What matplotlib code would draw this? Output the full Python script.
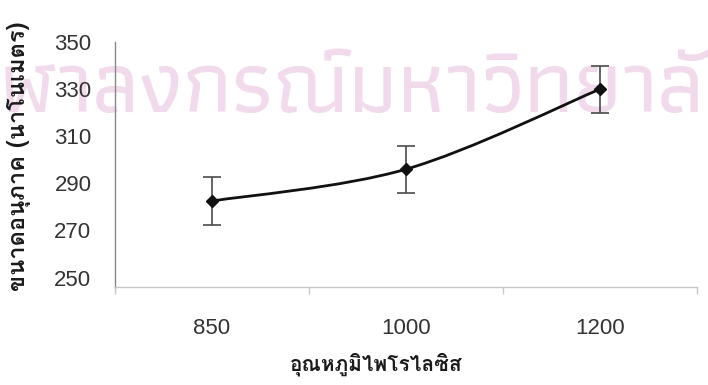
import matplotlib
matplotlib.use("Agg")
import numpy as np
import matplotlib.pyplot as plt
from matplotlib.path import Path
from matplotlib.patches import PathPatch

# Pyrolysis temperature categories and mean particle size (nm) with error
temperatures = ["850", "1000", "1200"]
particle_size = [282.5, 296.0, 330.0]
size_error = [10.0, 10.0, 10.0]
y_ticks = [250, 270, 290, 310, 330, 350]

x_label = "อุณหภูมิไพโรไลซิส"
y_label = "ขนาดอนุภาค (นาโนเมตร)"
watermark = "จุฬาลงกรณ์มหาวิทยาลัย"

W, H = 708, 385
fig = plt.figure(figsize=(W / 100, H / 100), dpi=100)
fig.patch.set_facecolor("white")
renderer = fig.canvas.get_renderer()

# faint institutional watermark behind the chart, sized from its measured width
wm_font = dict(family="Athiti", fontweight="medium")
probe_size = 50.0
def text_width(s, size):
    t = fig.text(0, 0, s, fontsize=size, **wm_font)
    w = t.get_window_extent(renderer).width
    t.remove()
    return w
body = watermark[2:-2]
scale = 705.0 / text_width(body, probe_size)
wm_size = probe_size * scale
lead = text_width(watermark[:2], wm_size)
fig.text(-lead / W, 1 - 112 / H, watermark, fontsize=wm_size, color="#f0daeb",
         ha="left", va="baseline", zorder=-5, **wm_font)

ax = fig.add_axes([115 / W, 1 - 287 / H, 582 / W, 245 / H])
ax.set_zorder(1)
ax.patch.set_alpha(0)

x = np.arange(len(temperatures))
y = np.array(particle_size)

# smoothed line through the points (Catmull-Rom converted to cubic Bezier)
pts = np.column_stack([x, y])
ext = np.vstack([pts[0], pts, pts[-1]])
verts = [tuple(pts[0])]
codes = [Path.MOVETO]
for i in range(len(pts) - 1):
    p0, p1, p2, p3 = ext[i], ext[i + 1], ext[i + 2], ext[i + 3]
    c1 = p1 + (p2 - p0) / 6.0
    c2 = p2 - (p3 - p1) / 6.0
    verts += [tuple(c1), tuple(c2), tuple(p2)]
    codes += [Path.CURVE4] * 3
ax.add_patch(PathPatch(Path(verts, codes), facecolor="none", edgecolor="#111111",
                       lw=2.0, capstyle="round", joinstyle="round", zorder=3))

ax.errorbar(x, y, yerr=size_error, fmt="none", ecolor="#4a4a4a",
            elinewidth=1.2, capsize=6.5, capthick=1.2, zorder=2)
ax.plot(x, y, linestyle="none", marker="D", markersize=6.5,
        color="#111111", zorder=4)

ax.set_xlim(-0.476, 2.47)
ax.set_ylim(246, 350)
ax.set_xticks(x)
ax.set_xticklabels(temperatures)
ax.set_xticks([-0.5, 0.5, 1.5, 2.5], minor=True)
ax.set_yticks(y_ticks)
ax.tick_params(axis="both", which="major", length=0, labelsize=16,
               labelcolor="#333333")
ax.tick_params(axis="x", which="major", pad=22)
ax.tick_params(axis="y", which="major", pad=17)
ax.tick_params(axis="x", which="minor", length=5, color="#c8c8c8", width=1)
for lab in ax.get_xticklabels() + ax.get_yticklabels():
    lab.set_family("Liberation Sans")

for s in ("top", "right"):
    ax.spines[s].set_visible(False)
ax.spines["left"].set_color("#888888")
ax.spines["left"].set_linewidth(1.0)
ax.spines["bottom"].set_color("#c8c8c8")
ax.spines["bottom"].set_linewidth(1.0)

fig.text(376 / W, 1 - 364 / H, x_label, family="Loma", fontweight="bold",
         fontsize=15, color="#1a1a1a", ha="center", va="center", zorder=2)
fig.text(19 / W, 1 - 156 / H, y_label, family="Loma", fontweight="bold",
         fontsize=17, color="#1a1a1a", ha="center", va="center", rotation=90,
         zorder=2)

fig.savefig("out.png", dpi=100)
